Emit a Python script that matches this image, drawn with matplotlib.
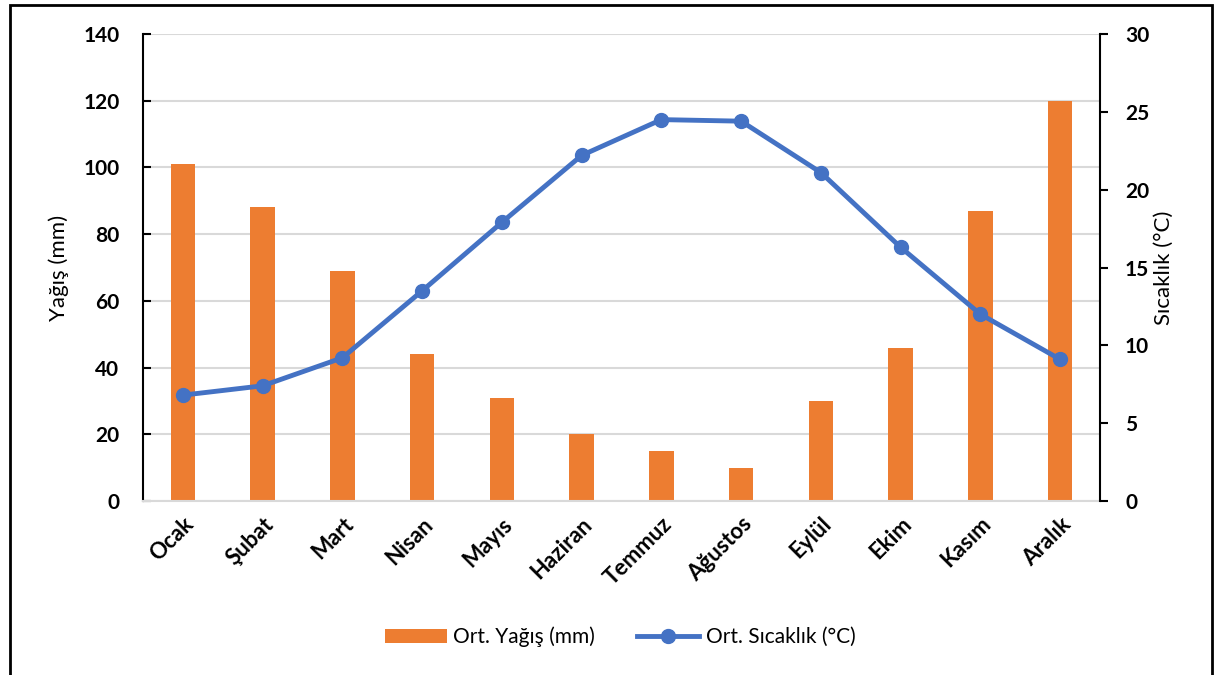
import matplotlib.pyplot as plt
import numpy as np
from matplotlib.patches import Rectangle

plt.rcParams['font.family'] = ['Lato', 'DejaVu Sans']

months = ["Ocak", "Şubat", "Mart", "Nisan", "Mayıs", "Haziran",
          "Temmuz", "Ağustos", "Eylül", "Ekim", "Kasım", "Aralık"]
rain = [101, 88, 69, 44, 31, 20, 15, 10, 30, 46, 87, 120]
temp = [6.8, 7.4, 9.2, 13.5, 17.9, 22.2, 24.5, 24.4, 21.1, 16.3, 12.0, 9.1]
left_ticks = [0, 20, 40, 60, 80, 100, 120, 140]
right_ticks = [0, 5, 10, 15, 20, 25, 30]

bar_color = "#ED7D31"
line_color = "#4472C4"

fig = plt.figure(figsize=(12.17, 6.75), dpi=100)
ax = fig.add_axes([143 / 1217, 1 - 501 / 675, (1100 - 143) / 1217, (501 - 34) / 675])
ax2 = ax.twinx()

x = np.arange(len(months))
bars = ax.bar(x, rain, width=0.31, color=bar_color, zorder=2, label="Ort. Yağış (mm)")
ax.set_xlim(-0.5, len(months) - 0.5)
ax.set_ylim(0, 140)
ax.set_yticks(left_ticks)
ax.yaxis.grid(True, color="#D9D9D9", linewidth=1.5, zorder=0)
ax.set_axisbelow(True)
ax.set_xticks(x)
ax.set_xticklabels(months, rotation=45, ha="right", rotation_mode="anchor",
                   fontsize=16, fontweight="bold")
ax.tick_params(axis="x", length=0, pad=9)
ax.tick_params(axis="y", direction="in", length=6, width=1.5, labelsize=15, pad=17)
for lbl in ax.get_yticklabels():
    lbl.set_fontweight("bold")
ax.set_ylabel("Yağış (mm)", fontsize=16, labelpad=10)

ax.spines["top"].set_visible(False)
ax.spines["right"].set_visible(False)
ax.spines["bottom"].set_color("#D9D9D9")
ax.spines["bottom"].set_linewidth(1.5)
ax.spines["left"].set_linewidth(1.5)

line, = ax2.plot(x, temp, color=line_color, linewidth=3.5, marker="o",
                 markersize=10, zorder=3, label="Ort. Sıcaklık (°C)")
ax2.set_ylim(0, 30)
ax2.set_yticks(right_ticks)
ax2.tick_params(axis="y", direction="out", length=6, width=1.5, labelsize=15, pad=12)
for lbl in ax2.get_yticklabels():
    lbl.set_fontweight("bold")
ax2.set_ylabel("Sıcaklık (°C)", fontsize=16, labelpad=3)
ax2.spines["top"].set_visible(False)
ax2.spines["left"].set_visible(False)
ax2.spines["bottom"].set_visible(False)
ax2.spines["right"].set_linewidth(1.5)

fig.legend(handles=[bars, line], loc="center", bbox_to_anchor=(620 / 1217, 1 - 637 / 675),
           ncol=2, frameon=False, fontsize=15, handlelength=3.0, columnspacing=2.0,
           handletextpad=0.3)

# outer frame
fig.patches.append(Rectangle((10 / 1217, -0.1), (1212 - 10) / 1217, 1.1 - 5 / 675,
                             transform=fig.transFigure, fill=False,
                             edgecolor="black", linewidth=2))

fig.savefig("out.png", dpi=100)
